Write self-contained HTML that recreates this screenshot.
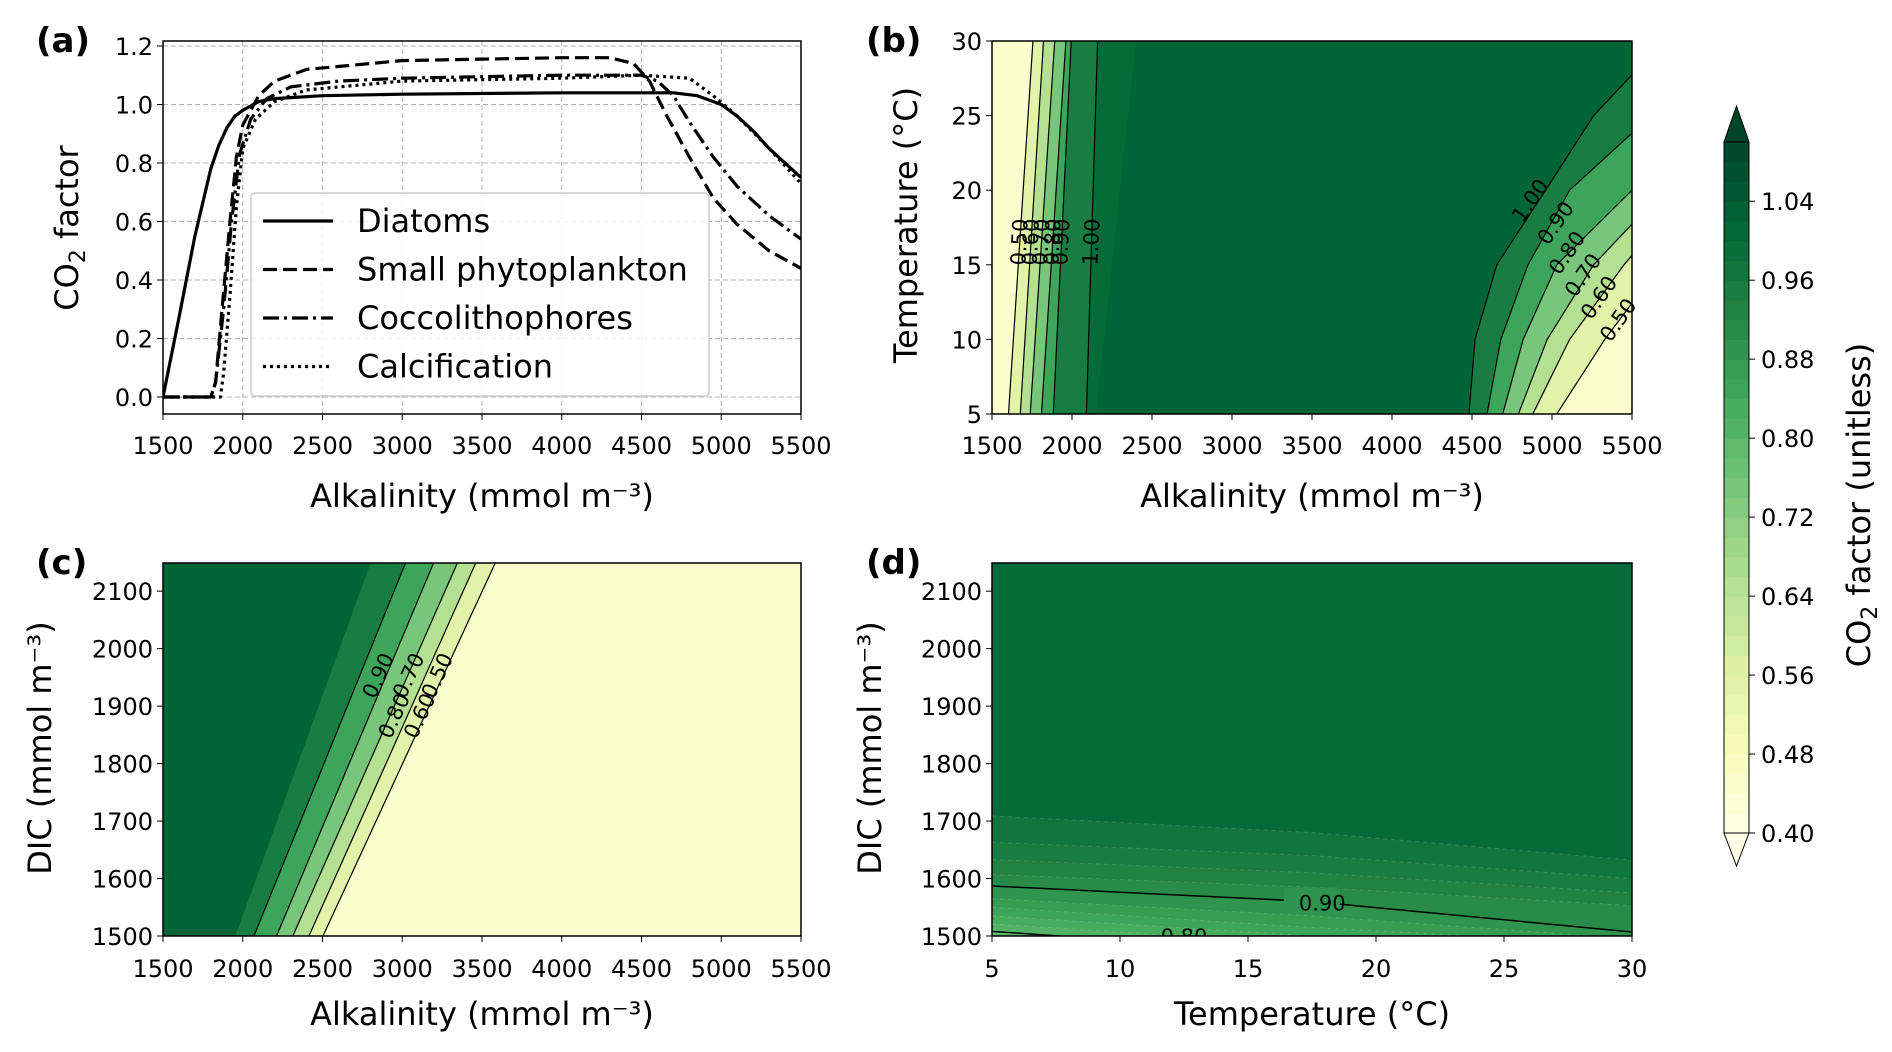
<!DOCTYPE html>
<html><head><meta charset="utf-8">
<style>
html,body{margin:0;padding:0;background:#fff;}
svg{display:block;font-family:"DejaVu Sans","Liberation Sans",sans-serif;}
.tk{font-size:24px;fill:#000;}
.ttl{font-size:32px;fill:#000;}
.pl{font-size:34px;font-weight:bold;fill:#000;}
.cl{font-size:21px;fill:#000;}
</style></head>
<body>
<svg id="fig" width="1892" height="1052" viewBox="0 0 1892 1052"></svg>
<script>
// ---------- Panel (a) data ----------
const alkDiatoms = [1500,1600,1700,1800,1850,1900,1950,2000,2100,2200,2500,3000,4000,4700,4850,5000,5100,5200,5300,5400,5500];
const valDiatoms = [0,0.27,0.55,0.78,0.86,0.92,0.96,0.98,1.01,1.02,1.03,1.035,1.04,1.04,1.03,1.0,0.96,0.91,0.85,0.8,0.75];
const alkSmall = [1500,1800,1830,1870,1920,1960,2000,2100,2200,2400,3000,4000,4300,4450,4550,4650,4800,4950,5100,5300,5500];
const valSmall = [0,0,0.05,0.3,0.6,0.82,0.93,1.03,1.08,1.12,1.15,1.16,1.16,1.14,1.08,0.97,0.82,0.68,0.59,0.5,0.44];
const alkCocco = [1500,1800,1830,1880,1930,1980,2050,2150,2300,2600,3000,4000,4500,4600,4700,4800,4950,5100,5300,5500];
const valCocco = [0,0,0.05,0.3,0.6,0.83,0.95,1.02,1.06,1.08,1.09,1.1,1.1,1.08,1.03,0.94,0.82,0.72,0.62,0.54];
const alkCalc = [1500,1860,1880,1920,1960,2000,2080,2200,2400,3000,4000,4500,4800,4950,5100,5300,5500];
const valCalc = [0,0,0.08,0.35,0.65,0.85,0.95,1.01,1.05,1.08,1.09,1.1,1.09,1.03,0.96,0.85,0.73];
const seriesNames = ["Diatoms","Small phytoplankton","Coccolithophores","Calcification"];
const alkTicks = [1500,2000,2500,3000,3500,4000,4500,5000,5500];
const factorTicks = [0.0,0.2,0.4,0.6,0.8,1.0,1.2];
const tempTicks = [5,10,15,20,25,30];
const dicTicks = [1500,1600,1700,1800,1900,2000,2100];
const cbTicks = [0.40,0.48,0.56,0.64,0.72,0.80,0.88,0.96,1.04];

// ---------- Panel (b) contours ----------
const bLevels = [0.5,0.6,0.7,0.8,0.9,1.0];
const bLeftT = [5,30];
const bLeftAlk = [[1603,1756],[1677,1822],[1739,1892],[1809,1962],[1883,1995],[2090,2160]];
const bRightT = [5,10,15,20,25,30];
const bRightAlk = [
 [5030,5330,5680,6030,6380,6730], // 0.5
 [4880,5110,5450,5850,6250,6650], // 0.6
 [4790,4970,5260,5700,6100,6500], // 0.7
 [4692,4820,5030,5500,5900,6300], // 0.8
 [4594,4680,4850,5110,5620,6000], // 0.9
 [4481,4519,4655,4960,5260,5700]  // 1.0
];

// ---------- Panel (c) contours ----------
const cLevels = [0.5,0.6,0.7,0.8,0.9,1.0];
const cDic = [1500,2148];
const cAlk = [[2503,3581],[2415,3459],[2314,3344],[2212,3195],[2070,3019],[1954,2800]];

// ---------- Panel (d) contours ----------
const dLevels = [0.80,0.82,0.84,0.86,0.88,0.90,0.92,0.94,0.96,0.98];
const dTemp = [5,17.5,30];
const dDic = [[1508,1470,1440],[1521,1485,1455],[1535,1500,1470],[1550,1515,1485],[1565,1535,1495],[1587,1560,1507],[1607,1585,1553],[1633,1610,1575],[1663,1640,1600],[1709,1680,1632]];

const NS="http://www.w3.org/2000/svg";
const svg=document.getElementById('fig');
function mk(tag,attrs,parent){const e=document.createElementNS(NS,tag);for(const k in attrs)e.setAttribute(k,attrs[k]);(parent||svg).appendChild(e);return e;}
function txt(s,x,y,cls,anchor,parent,rot){const t=mk('text',{x:x,y:y,class:cls,'text-anchor':anchor||'middle'},parent);if(rot!==undefined)t.setAttribute('transform','rotate('+rot+' '+x+' '+y+')');t.textContent=s;return t;}

const ylgn=["#ffffe5","#f7fcb9","#d9f0a3","#addd8e","#78c679","#41ab5d","#238443","#006837","#004529"];
function hex(c){return [parseInt(c.substr(1,2),16),parseInt(c.substr(3,2),16),parseInt(c.substr(5,2),16)];}
function colorFor(v){let t=(v-0.4)/0.7;t=Math.max(0,Math.min(1,t));const p=t*8,i=Math.min(7,Math.floor(p)),f=p-i;const a=hex(ylgn[i]),b=hex(ylgn[i+1]);return 'rgb('+a.map((x,k)=>Math.round(x+(b[k]-x)*f)).join(',')+')';}
function lin(d0,d1,r0,r1){return v=>r0+(v-d0)/(d1-d0)*(r1-r0);}

// ---------------- Panel A ----------------
const A={x0:163,x1:801,y0:41,y1:414};
const ax=lin(1500,5500,A.x0,A.x1), ay=lin(-0.058,1.217,A.y1,A.y0);
const gA=mk('g',{});


mk('defs',{},gA).innerHTML='<clipPath id="clipA"><rect x="'+A.x0+'" y="'+A.y0+'" width="'+(A.x1-A.x0)+'" height="'+(A.y1-A.y0)+'"/></clipPath>';
alkTicks.forEach(v=>{mk('line',{x1:ax(v),x2:ax(v),y1:A.y0,y2:A.y1,stroke:'#b0b0b0','stroke-width':1,'stroke-dasharray':'5,3'},gA);});
factorTicks.forEach(v=>{mk('line',{x1:A.x0,x2:A.x1,y1:ay(v),y2:ay(v),stroke:'#b0b0b0','stroke-width':1,'stroke-dasharray':'5,3'},gA);});
const dashes=['none','14,6','16,5,3,5','3,4'];
[[alkDiatoms,valDiatoms],[alkSmall,valSmall],[alkCocco,valCocco],[alkCalc,valCalc]].forEach((s,i)=>{
  const d=s[0].map((x,k)=>(k?'L':'M')+ax(x).toFixed(1)+','+ay(s[1][k]).toFixed(1)).join('');
  const p=mk('path',{d:d,fill:'none',stroke:'#000','stroke-width':3.2,'stroke-linejoin':'round','stroke-dasharray':dashes[i],'clip-path':'url(#clipA)'},gA);
  
  
});
mk('rect',{x:A.x0,y:A.y0,width:A.x1-A.x0,height:A.y1-A.y0,fill:'none',stroke:'#000','stroke-width':1.5},gA);
const lg=mk('g',{},gA);


mk('rect',{x:251,y:193,width:458,height:203,rx:4,fill:'rgba(255,255,255,0.85)',stroke:'#ccc','stroke-width':1.5},lg);
seriesNames.forEach((n,i)=>{const y=221+i*48.5;
  const e=mk('g',{},lg);
  
  
  mk('line',{x1:263,x2:333,y1:y,y2:y,stroke:'#000','stroke-width':3.2,'stroke-dasharray':dashes[i]},e);
  txt(n,357,y+11,'ttl','start',e);
});
alkTicks.forEach(v=>{mk('line',{x1:ax(v),x2:ax(v),y1:A.y1,y2:A.y1+6,stroke:'#000'},gA);txt(String(v),ax(v),A.y1+40,'tk','middle',gA);});
factorTicks.forEach(v=>{mk('line',{x1:A.x0-6,x2:A.x0,y1:ay(v),y2:ay(v),stroke:'#000'},gA);txt(v.toFixed(1),A.x0-10,ay(v)+9,'tk','end',gA);});
txt('Alkalinity (mmol m\u207B\u00B3)',(A.x0+A.x1)/2,507,'ttl','middle',gA);
const ya=txt('',78,228,'ttl','middle',gA,-90);ya.innerHTML='CO<tspan font-size="22" dy="7">2</tspan><tspan dy="-7"> factor</tspan>';
txt('(a)',36,52,'pl','start',gA);

// ---------------- Panel B ----------------
const B={x0:992,x1:1632,y0:41,y1:414};
const bx=lin(1500,5500,B.x0,B.x1), by=lin(5,30,B.y1,B.y0);
const gB=mk('g',{});


mk('defs',{},gB).innerHTML='<clipPath id="clipB"><rect x="'+B.x0+'" y="'+B.y0+'" width="'+(B.x1-B.x0)+'" height="'+(B.y1-B.y0)+'"/></clipPath>';
const fb=mk('g',{'clip-path':'url(#clipB)'},gB);
mk('rect',{x:B.x0,y:B.y0,width:B.x1-B.x0,height:B.y1-B.y0,fill:colorFor(1.02)},fb);
mk('polygon',{points:[[1500,5],[2150,5],[2400,30],[1500,30]].map(p=>bx(p[0])+','+by(p[1])).join(' '),fill:colorFor(1.0)},fb);
for(let i=bLevels.length-1;i>=0;i--){
  const pts=bLeftT.map((t,k)=>[bLeftAlk[i][k],t]); pts.push([1400,30],[1400,5]);
  mk('polygon',{points:pts.map(p=>bx(p[0])+','+by(p[1])).join(' '),fill:colorFor(bLevels[i]-0.05)},fb);
}
for(let i=bLevels.length-1;i>=0;i--){
  const pts=bRightT.map((t,k)=>[bRightAlk[i][k],t]); pts.push([7000,30],[7000,5]);
  mk('polygon',{points:pts.map(p=>bx(p[0])+','+by(p[1])).join(' '),fill:colorFor(bLevels[i]-0.05)},fb);
}
bLevels.forEach((l,i)=>{
  mk('polyline',{points:bLeftT.map((t,k)=>bx(bLeftAlk[i][k])+','+by(t)).join(' '),fill:'none',stroke:'#000','stroke-width':1.2},fb);
  mk('polyline',{points:bRightT.map((t,k)=>bx(bRightAlk[i][k])+','+by(t)).join(' '),fill:'none',stroke:'#000','stroke-width':1.2},fb);
});
['0.50','0.60','0.70','0.80','0.90','1.00'].forEach((s,i)=>{
  const x=bx((bLeftAlk[i][0]*0.55+bLeftAlk[i][1]*0.45)), y=by(16.5);
  txt(s,x+7,y,'cl','middle',gB,-87);
});
[['1.00',4900,19.5],['0.90',5060,18],['0.80',5130,16],['0.70',5230,14.5],['0.60',5330,13],['0.50',5450,11.5]].forEach(c=>{
  const x=bx(c[1]),y=by(c[2]);
  txt(c[0],x,y+7,'cl','middle',gB,-55);
});
mk('rect',{x:B.x0,y:B.y0,width:B.x1-B.x0,height:B.y1-B.y0,fill:'none',stroke:'#000','stroke-width':1.5},gB);
alkTicks.forEach(v=>{mk('line',{x1:bx(v),x2:bx(v),y1:B.y1,y2:B.y1+6,stroke:'#000'},gB);txt(String(v),bx(v),B.y1+40,'tk','middle',gB);});
tempTicks.forEach(v=>{mk('line',{x1:B.x0-6,x2:B.x0,y1:by(v),y2:by(v),stroke:'#000'},gB);txt(String(v),B.x0-10,by(v)+9,'tk','end',gB);});
txt('Alkalinity (mmol m\u207B\u00B3)',(B.x0+B.x1)/2,507,'ttl','middle',gB);
txt('Temperature (\u00B0C)',917,225,'ttl','middle',gB,-90);
txt('(b)',866,52,'pl','start',gB);

// ---------------- Panel C ----------------
const C={x0:163,x1:801,y0:563,y1:936};
const cx=lin(1500,5500,C.x0,C.x1), cy=lin(1500,2149,C.y1,C.y0);
const gC=mk('g',{});


mk('defs',{},gC).innerHTML='<clipPath id="clipC"><rect x="'+C.x0+'" y="'+C.y0+'" width="'+(C.x1-C.x0)+'" height="'+(C.y1-C.y0)+'"/></clipPath>';
const fc=mk('g',{'clip-path':'url(#clipC)'},gC);
mk('rect',{x:C.x0,y:C.y0,width:C.x1-C.x0,height:C.y1-C.y0,fill:colorFor(1.02)},fc);
for(let i=cLevels.length-1;i>=0;i--){
  const pts=cDic.map((d,k)=>[cAlk[i][k],d]); pts.push([6000,2149],[6000,1500]);
  mk('polygon',{points:pts.map(p=>cx(p[0])+','+cy(p[1])).join(' '),fill:colorFor(cLevels[i]-0.05)},fc);
}
cLevels.forEach((l,i)=>{ if(l<1) mk('polyline',{points:cDic.map((d,k)=>cx(cAlk[i][k])+','+cy(d)).join(' '),fill:'none',stroke:'#000','stroke-width':1.2},fc);});
[['0.90',2890,1960],['0.80',2990,1890],['0.70',3080,1960],['0.60',3150,1890],['0.50',3260,1960]].forEach(c=>{
  txt(c[0],cx(c[1]),cy(c[2])+7,'cl','middle',gC,-65);
});
mk('rect',{x:C.x0,y:C.y0,width:C.x1-C.x0,height:C.y1-C.y0,fill:'none',stroke:'#000','stroke-width':1.5},gC);
alkTicks.forEach(v=>{mk('line',{x1:cx(v),x2:cx(v),y1:C.y1,y2:C.y1+6,stroke:'#000'},gC);txt(String(v),cx(v),C.y1+41,'tk','middle',gC);});
dicTicks.forEach(v=>{mk('line',{x1:C.x0-6,x2:C.x0,y1:cy(v),y2:cy(v),stroke:'#000'},gC);txt(String(v),C.x0-10,cy(v)+9,'tk','end',gC);});
txt('Alkalinity (mmol m\u207B\u00B3)',(C.x0+C.x1)/2,1025,'ttl','middle',gC);
txt('DIC (mmol m\u207B\u00B3)',51,748,'ttl','middle',gC,-90);
txt('(c)',36,574,'pl','start',gC);

// ---------------- Panel D ----------------
const D={x0:992,x1:1632,y0:563,y1:936};
const dx=lin(5,30,D.x0,D.x1), dy=lin(1500,2149,D.y1,D.y0);
const gD=mk('g',{});


mk('defs',{},gD).innerHTML='<clipPath id="clipD"><rect x="'+D.x0+'" y="'+D.y0+'" width="'+(D.x1-D.x0)+'" height="'+(D.y1-D.y0)+'"/></clipPath>';
const fd=mk('g',{'clip-path':'url(#clipD)'},gD);
mk('rect',{x:D.x0,y:D.y0,width:D.x1-D.x0,height:D.y1-D.y0,fill:colorFor(1.0)},fd);
for(let i=dLevels.length-1;i>=0;i--){
  const pts=dTemp.map((t,k)=>[t,dDic[i][k]]); pts.push([30,1400],[5,1400]);
  mk('polygon',{points:pts.map(p=>dx(p[0])+','+dy(p[1])).join(' '),fill:colorFor(dLevels[i]-0.01)},fd);
}
dLevels.forEach((l,i)=>{
  const major=Math.abs(l-0.9)<1e-6||Math.abs(l-0.8)<1e-6;
  mk('polyline',{points:dTemp.map((t,k)=>dx(t)+','+dy(dDic[i][k])).join(' '),fill:'none',stroke:major?'#000':'rgba(255,255,255,0.15)','stroke-width':major?1.5:1,'stroke-dasharray':major?'none':'4,4'},fd);
});
mk('rect',{x:dx(16.4),y:dy(1565)-11,width:56,height:22,fill:colorFor(0.89)},fd);
txt('0.90',dx(17.9),dy(1558)+8,'cl','middle',gD);
txt('0.80',dx(12.5),dy(1500)+8,'cl','middle',fd);
mk('rect',{x:D.x0,y:D.y0,width:D.x1-D.x0,height:D.y1-D.y0,fill:'none',stroke:'#000','stroke-width':1.5},gD);
tempTicks.forEach(v=>{mk('line',{x1:dx(v),x2:dx(v),y1:D.y1,y2:D.y1+6,stroke:'#000'},gD);txt(String(v),dx(v),D.y1+41,'tk','middle',gD);});
dicTicks.forEach(v=>{mk('line',{x1:D.x0-6,x2:D.x0,y1:dy(v),y2:dy(v),stroke:'#000'},gD);txt(String(v),D.x0-10,dy(v)+9,'tk','end',gD);});
txt('Temperature (\u00B0C)',(D.x0+D.x1)/2,1025,'ttl','middle',gD);
txt('DIC (mmol m\u207B\u00B3)',881,748,'ttl','middle',gD,-90);
txt('(d)',866,574,'pl','start',gD);

// ---------------- Colorbar ----------------
const gCB=mk('g',{});


const CB={x0:1724,x1:1749,top:142,bot:833};
const cby=lin(0.40,1.10,CB.bot,CB.top);
for(let v=0.40;v<1.099;v+=0.02){mk('rect',{x:CB.x0,y:cby(v+0.02),width:CB.x1-CB.x0,height:cby(v)-cby(v+0.02)+0.5,fill:colorFor(v+0.01)},gCB);}
mk('polygon',{points:CB.x0+','+CB.top+' '+CB.x1+','+CB.top+' '+((CB.x0+CB.x1)/2)+',106',fill:colorFor(1.12),stroke:'#000','stroke-width':1},gCB);
mk('polygon',{points:CB.x0+','+CB.bot+' '+CB.x1+','+CB.bot+' '+((CB.x0+CB.x1)/2)+',866',fill:'#ffffe5',stroke:'#000','stroke-width':1},gCB);
mk('rect',{x:CB.x0,y:CB.top,width:CB.x1-CB.x0,height:CB.bot-CB.top,fill:'none',stroke:'#000','stroke-width':1},gCB);
cbTicks.forEach(v=>{mk('line',{x1:CB.x1,x2:CB.x1+6,y1:cby(v),y2:cby(v),stroke:'#000'},gCB);txt(v.toFixed(2),CB.x1+12,cby(v)+9,'tk','start',gCB);});
const cbl=txt('',1870,505,'ttl','middle',gCB,-90);cbl.innerHTML='CO<tspan font-size="22" dy="7">2</tspan><tspan dy="-7"> factor (unitless)</tspan>';
</script>
</body></html>
